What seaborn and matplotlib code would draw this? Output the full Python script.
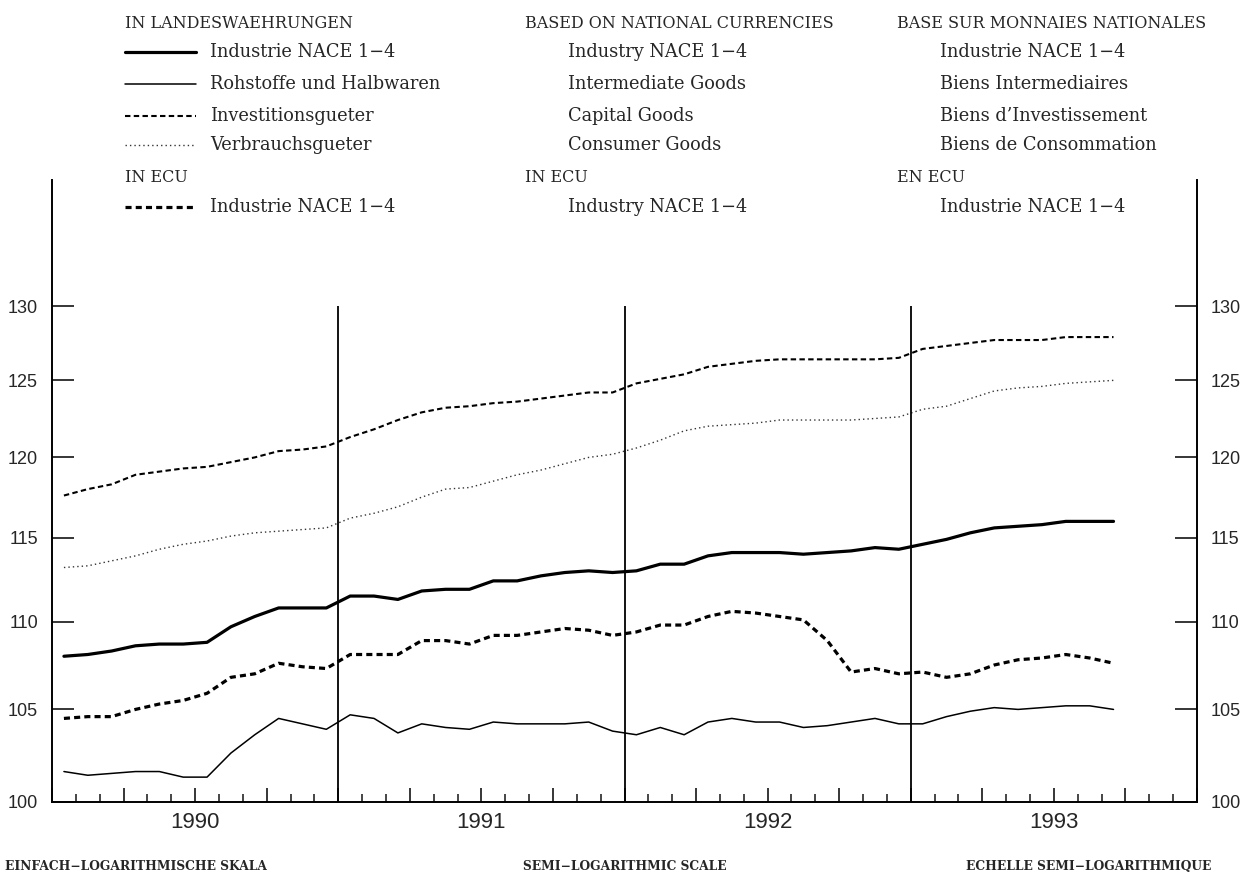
import numpy as np
import pandas as pd
import seaborn as sns
import matplotlib
matplotlib.use('Agg')
import matplotlib.pyplot as plt
from matplotlib.lines import Line2D
from matplotlib.ticker import FixedLocator, NullLocator, NullFormatter

# Monatswerte Jan 1990 - Sep 1993 (Index, halblogarithmisch)
months = pd.period_range('1990-01', '1993-09', freq='M')

industrie = [108.0, 108.1, 108.3, 108.6, 108.7, 108.7, 108.8, 109.7, 110.3, 110.8, 110.8, 110.8,
             111.5, 111.5, 111.3, 111.8, 111.9, 111.9, 112.4, 112.4, 112.7, 112.9, 113.0, 112.9,
             113.0, 113.4, 113.4, 113.9, 114.1, 114.1, 114.1, 114.0, 114.1, 114.2, 114.4, 114.3,
             114.6, 114.9, 115.3, 115.6, 115.7, 115.8, 116.0, 116.0, 116.0]
rohstoffe = [101.6, 101.4, 101.5, 101.6, 101.6, 101.3, 101.3, 102.6, 103.6, 104.5, 104.2, 103.9,
             104.7, 104.5, 103.7, 104.2, 104.0, 103.9, 104.3, 104.2, 104.2, 104.2, 104.3, 103.8,
             103.6, 104.0, 103.6, 104.3, 104.5, 104.3, 104.3, 104.0, 104.1, 104.3, 104.5, 104.2,
             104.2, 104.6, 104.9, 105.1, 105.0, 105.1, 105.2, 105.2, 105.0]
investition = [117.6, 118.0, 118.3, 118.9, 119.1, 119.3, 119.4, 119.7, 120.0, 120.4, 120.5, 120.7,
               121.3, 121.8, 122.4, 122.9, 123.2, 123.3, 123.5, 123.6, 123.8, 124.0, 124.2, 124.2,
               124.8, 125.1, 125.4, 125.9, 126.1, 126.3, 126.4, 126.4, 126.4, 126.4, 126.4, 126.5,
               127.1, 127.3, 127.5, 127.7, 127.7, 127.7, 127.9, 127.9, 127.9]
verbrauch = [113.2, 113.3, 113.6, 113.9, 114.3, 114.6, 114.8, 115.1, 115.3, 115.4, 115.5, 115.6,
             116.2, 116.5, 116.9, 117.5, 118.0, 118.1, 118.5, 118.9, 119.2, 119.6, 120.0, 120.2,
             120.6, 121.1, 121.7, 122.0, 122.1, 122.2, 122.4, 122.4, 122.4, 122.4, 122.5, 122.6,
             123.1, 123.3, 123.8, 124.3, 124.5, 124.6, 124.8, 124.9, 125.0]
industrie_ecu = [104.5, 104.6, 104.6, 105.0, 105.3, 105.5, 105.9, 106.8, 107.0, 107.6, 107.4, 107.3,
                 108.1, 108.1, 108.1, 108.9, 108.9, 108.7, 109.2, 109.2, 109.4, 109.6, 109.5, 109.2,
                 109.4, 109.8, 109.8, 110.3, 110.6, 110.5, 110.3, 110.1, 108.9, 107.1, 107.3, 107.0,
                 107.1, 106.8, 107.0, 107.5, 107.8, 107.9, 108.1, 107.9, 107.6]

years = ['1990', '1991', '1992', '1993']
y_ticks = [100, 105, 110, 115, 120, 125, 130]

# Legendentexte (deutsch / englisch / franzoesisch)
head_de = ['IN LANDESWAEHRUNGEN', 'IN ECU']
head_en = ['BASED ON NATIONAL CURRENCIES', 'IN ECU']
head_fr = ['BASE SUR MONNAIES NATIONALES', 'EN ECU']
names_de = ['Industrie NACE 1\u22124', 'Rohstoffe und Halbwaren', 'Investitionsgueter',
            'Verbrauchsgueter', 'Industrie NACE 1\u22124']
names_en = ['Industry NACE 1\u22124', 'Intermediate Goods', 'Capital Goods',
            'Consumer Goods', 'Industry NACE 1\u22124']
names_fr = ['Industrie NACE 1\u22124', 'Biens Intermediaires', "Biens d\u2019Investissement",
            'Biens de Consommation', 'Industrie NACE 1\u22124']
scale_texts = ['EINFACH\u2212LOGARITHMISCHE SKALA', 'SEMI\u2212LOGARITHMIC SCALE',
               'ECHELLE SEMI\u2212LOGARITHMIQUE']

# x = Monatsmitte, 0 = 1.1.1990
x = np.array([(p.year - 1990) * 12 + p.month - 0.5 for p in months])

sns.set_style('white')
plt.rcParams['font.family'] = ['DejaVu Serif', 'DejaVu Sans']

W, H = 1253, 875
fig = plt.figure(figsize=(W / 100, H / 100), dpi=100)
ax = fig.add_axes([52 / W, (H - 801.5) / H, (1197 - 52) / W, (801.5 - 180) / H])

# Linienstile
styles = [
    dict(lw=2.3, linestyle='-', color='black'),
    dict(lw=1.1, linestyle='-', color='black'),
    dict(lw=1.5, linestyle=(0, (2.6, 1.6)), color='black'),
    dict(lw=1.0, linestyle=(0, (1.0, 2.2)), color='#333333'),
    dict(lw=2.3, linestyle=(0, (1.9, 1.3)), color='black'),
]
series = [industrie, rohstoffe, investition, verbrauch, industrie_ecu]
for vals, st in zip(series, styles):
    sns.lineplot(x=x, y=vals, ax=ax, **st)

ax.set_yscale('log')
ax.set_ylim(100, 139)
ax.set_xlim(0, 48)
ax.yaxis.set_major_locator(FixedLocator(y_ticks))
ax.yaxis.set_minor_locator(NullLocator())
ax.yaxis.set_minor_formatter(NullFormatter())
ax.set_yticklabels([str(t) for t in y_ticks])
ax.xaxis.set_major_locator(FixedLocator(range(0, 49, 3)))
ax.xaxis.set_minor_locator(FixedLocator(range(0, 49)))
ax.set_xticklabels([])

ax.vlines([12, 24, 36], 100, 130, color='black', lw=1.3)

for s in ['left', 'right', 'bottom']:
    ax.spines[s].set_visible(True)
    ax.spines[s].set_color('black')
    ax.spines[s].set_linewidth(1.4)
ax.spines['top'].set_visible(False)

ax.tick_params(axis='y', which='major', direction='in', length=16, width=1.3,
               left=True, right=True, labelleft=True, labelright=True, pad=10,
               labelsize=13, labelfontfamily='Liberation Sans')
ax.tick_params(axis='x', which='major', direction='in', length=10, width=1.3, bottom=True)
ax.tick_params(axis='x', which='minor', direction='in', length=6, width=1.2, bottom=True)
ax.set_xlabel('')
ax.set_ylabel('')

for k, yr in enumerate(years):
    ax.annotate(yr, xy=(6 + 12 * k, 0), xycoords=ax.get_xaxis_transform(),
                xytext=(0, -15), textcoords='offset points', ha='center', va='center',
                fontsize=16, family='Liberation Sans')

# Legende oben
def fx(px):
    return px / W

def fy(py):
    return 1 - py / H

rows = [52, 84, 116, 145, 207]
hs = 11.5
fs = 12.8
fig.text(fx(125), fy(23), head_de[0], fontsize=hs, va='center')
fig.text(fx(125), fy(177), head_de[1], fontsize=hs, va='center')
fig.text(fx(525), fy(23), head_en[0], fontsize=hs, va='center')
fig.text(fx(525), fy(177), head_en[1], fontsize=hs, va='center')
fig.text(fx(897), fy(23), head_fr[0], fontsize=hs, va='center')
fig.text(fx(897), fy(177), head_fr[1], fontsize=hs, va='center')
for r, st, de, en, fr in zip(rows, styles, names_de, names_en, names_fr):
    fig.add_artist(Line2D([fx(125), fx(196)], [fy(r), fy(r)], transform=fig.transFigure, **st))
    fig.text(fx(210), fy(r), de, fontsize=fs, va='center')
    fig.text(fx(568), fy(r), en, fontsize=fs, va='center')
    fig.text(fx(940), fy(r), fr, fontsize=fs, va='center')

# Skalenhinweis unten
fig.text(fx(5), fy(866), scale_texts[0], fontsize=8.8, weight='bold', va='center', ha='left')
fig.text(fx(625), fy(866), scale_texts[1], fontsize=8.8, weight='bold', va='center', ha='center')
fig.text(fx(1211), fy(866), scale_texts[2], fontsize=8.8, weight='bold', va='center', ha='right')

fig.savefig('out.png', dpi=100, facecolor='white')
